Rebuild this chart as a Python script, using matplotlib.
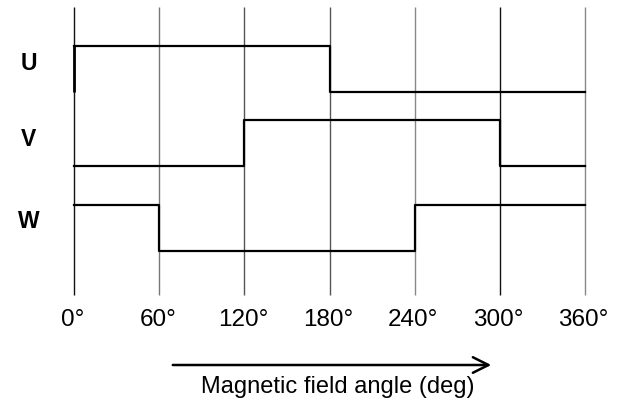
import matplotlib
matplotlib.use("Agg")
import matplotlib.pyplot as plt

# ---- data ----
angles = [0, 60, 120, 180, 240, 300, 360]
tick_labels = ["0°", "60°", "120°", "180°", "240°", "300°", "360°"]
signal_names = ["U", "V", "W"]
u_states = [1, 1, 1, 0, 0, 0]
v_states = [0, 0, 1, 1, 1, 0]
w_states = [1, 0, 0, 0, 1, 1]
xlabel = "Magnetic field angle (deg)"

plt.rcParams['font.family'] = ['Liberation Sans', 'DejaVu Sans']

fig = plt.figure(figsize=(6.2, 4.0), dpi=100)
ax = fig.add_axes([0, 0, 1, 1])
ax.set_axis_off()

# map: pixel x = 74 + angle * 511/360
px0, pxspan = 74.0, 511.0
def px2a(p):
    return (p - px0) * 360.0 / pxspan
ax.set_xlim(px2a(0), px2a(620))
ax.set_ylim(400, 0)

# vertical grid lines
grid_colors = ['#111111', '#777777', '#555555', '#555555', '#888888', '#111111', '#888888']
for a, c in zip(angles, grid_colors):
    ax.plot([a, a], [7, 295], color=c, lw=1.0, solid_capstyle='butt')

# signals
rows = [(u_states, 92, 63), (v_states, 166, 140), (w_states, 251, 222)]
amp = 46
for name, (states, base, ly) in zip(signal_names, rows):
    ys = [base - s * amp for s in states]
    yy = ys + [ys[-1]]
    if name == "U":
        ax.plot([0, 0], [base, base - amp], color='black', lw=2.0, solid_capstyle='butt')
    ax.step(angles, yy, where='post', color='black', lw=1.6)
    ax.text(px2a(28.5), ly, name, fontsize=16.5, fontweight='bold', ha='center', va='center')

# tick labels
for a, t in zip(angles, tick_labels):
    ax.text(a - 1.0, 320, t, fontsize=17.5, ha='center', va='center')

# arrow
ax.annotate("", xy=(px2a(494), 365), xytext=(px2a(170), 365),
            arrowprops=dict(arrowstyle='->', lw=1.8, color='black', mutation_scale=28))
ax.text(px2a(338), 387, xlabel, fontsize=17, ha='center', va='center')

fig.savefig("out.png", dpi=100)
